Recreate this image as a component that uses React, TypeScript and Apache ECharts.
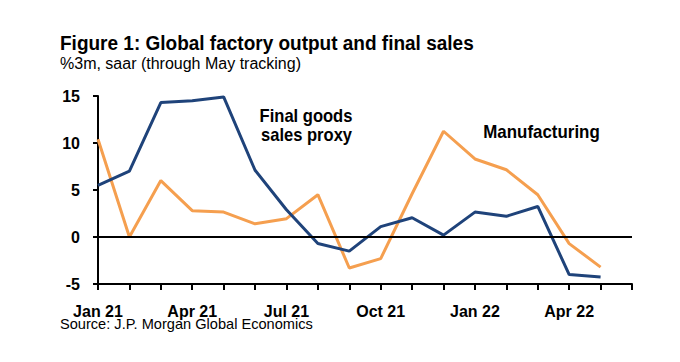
import React, { useEffect, useRef } from "react";
import * as echarts from "echarts";

const categories = [
  "Jan 21", "Feb 21", "Mar 21", "Apr 21", "May 21", "Jun 21",
  "Jul 21", "Aug 21", "Sep 21", "Oct 21", "Nov 21", "Dec 21",
  "Jan 22", "Feb 22", "Mar 22", "Apr 22", "May 22", "Jun 22",
];

const finalGoodsSales = [5.5, 7.0, 14.3, 14.5, 14.9, 7.1, 2.9, -0.7, -1.5, 1.1, 2.05, 0.2, 2.65, 2.2, 3.25, -4.0, -4.25, null];
const manufacturing = [10.4, 0, 6.0, 2.8, 2.65, 1.4, 1.95, 4.5, -3.3, -2.3, 4.6, 11.25, 8.3, 7.15, 4.5, -0.7, -3.2, null];

const yMin = -5;
const yMax = 15;
const yInterval = 5;

const titleText = "Figure 1: Global factory output and final sales";
const subtitleText = "%3m, saar (through May tracking)";
const sourceText = "Source: J.P. Morgan Global Economics";
const finalLabel = ["Final goods", "sales proxy"];
const manuLabel = "Manufacturing";

const FONT = "'Liberation Sans', Arial, Helvetica, sans-serif";
const BLUE = "#1f437a";
const ORANGE = "#f59f4f";

export default function App() {
  const ref = useRef<HTMLDivElement>(null);

  useEffect(() => {
    document.body.style.margin = "0";
    const chart = echarts.init(ref.current!, null, { renderer: "svg" });
    chart.setOption({
      animation: false,
      backgroundColor: "#ffffff",
      textStyle: { fontFamily: FONT },
      grid: { left: 98, right: 48, top: 96, bottom: 78, containLabel: false },
      xAxis: {
        type: "category",
        data: categories,
        boundaryGap: false,
        axisLine: { onZero: false, lineStyle: { color: "#000", width: 2 } },
        axisTick: { show: true, interval: 0, length: 6, lineStyle: { color: "#000", width: 2 } },
        axisLabel: {
          interval: 2,
          margin: 19,
          color: "#000",
          fontSize: 16,
          fontWeight: "bold",
          fontFamily: FONT,
        },
        splitLine: { show: false },
      },
      yAxis: {
        type: "value",
        min: yMin,
        max: yMax,
        interval: yInterval,
        axisLine: { show: true, lineStyle: { color: "#000", width: 2 } },
        axisTick: { show: true, length: 5, lineStyle: { color: "#000", width: 2 } },
        axisLabel: {
          margin: 18,
          color: "#000",
          fontSize: 16,
          fontWeight: "bold",
          fontFamily: FONT,
        },
        splitLine: { show: false },
      },
      series: [
        {
          name: "Final goods sales proxy",
          type: "line",
          data: finalGoodsSales,
          showSymbol: false,
          symbol: "none",
          lineStyle: { color: BLUE, width: 3 },
          itemStyle: { color: BLUE },
          markLine: {
            silent: true,
            symbol: "none",
            label: { show: false },
            lineStyle: { color: "#000", width: 2, type: "solid" },
            data: [{ yAxis: 0 }],
          },
          z: 3,
        },
        {
          name: "Manufacturing",
          type: "line",
          data: manufacturing,
          showSymbol: false,
          symbol: "none",
          lineStyle: { color: ORANGE, width: 3 },
          itemStyle: { color: ORANGE },
          z: 2,
        },
      ],
      graphic: [
        {
          type: "text",
          x: 60,
          y: 42.5,
          scaleX: 0.905,
          style: {
            text: titleText,
            font: `bold 21px ${FONT}`,
            fill: "#000",
            verticalAlign: "middle",
            align: "left",
          },
        },
        {
          type: "text",
          x: 60,
          y: 63,
          style: {
            text: subtitleText,
            font: `16px ${FONT}`,
            fill: "#000",
            verticalAlign: "middle",
            align: "left",
          },
        },
        {
          type: "text",
          x: 306,
          y: 116,
          scaleX: 0.92,
          style: {
            text: finalLabel[0],
            font: `bold 18px ${FONT}`,
            fill: "#000",
            verticalAlign: "middle",
            align: "center",
          },
        },
        {
          type: "text",
          x: 306.5,
          y: 135,
          scaleX: 0.92,
          style: {
            text: finalLabel[1],
            font: `bold 18px ${FONT}`,
            fill: "#000",
            verticalAlign: "middle",
            align: "center",
          },
        },
        {
          type: "text",
          x: 541.5,
          y: 131.5,
          scaleX: 0.94,
          style: {
            text: manuLabel,
            font: `bold 18px ${FONT}`,
            fill: "#000",
            verticalAlign: "middle",
            align: "center",
          },
        },
        {
          type: "text",
          x: 60,
          y: 324,
          style: {
            text: sourceText,
            font: `14.6px ${FONT}`,
            fill: "#000",
            verticalAlign: "middle",
            align: "left",
          },
        },
      ],
    });
    return () => chart.dispose();
  }, []);

  return (
    <div
      ref={ref}
      style={{ position: "absolute", left: 0, top: 0, width: 680, height: 362, background: "#fff" }}
    />
  );
}
